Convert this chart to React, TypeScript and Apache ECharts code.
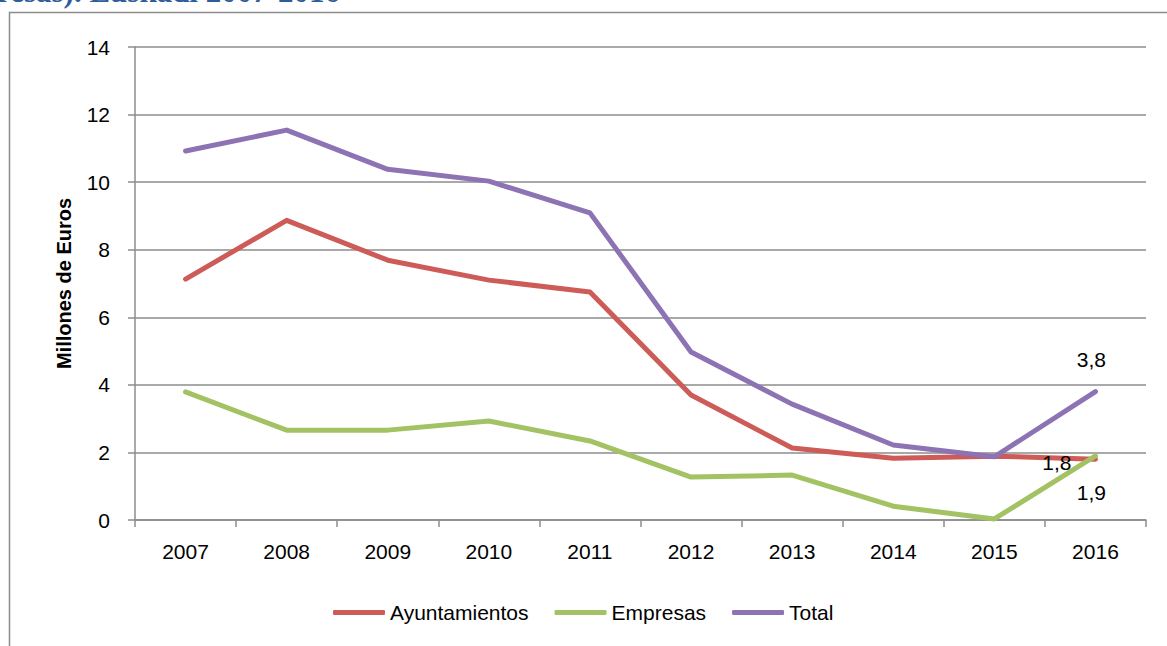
import React, { useEffect, useRef } from "react";
import * as echarts from "echarts";

const years = ["2007", "2008", "2009", "2010", "2011", "2012", "2013", "2014", "2015", "2016"];
const ayuntamientos = [7.13, 8.87, 7.69, 7.1, 6.75, 3.7, 2.13, 1.83, 1.89, 1.8];
const empresas = [3.79, 2.66, 2.66, 2.93, 2.34, 1.27, 1.33, 0.41, 0.03, 1.9];
const total = [10.92, 11.54, 10.38, 10.03, 9.09, 4.97, 3.43, 2.22, 1.87, 3.8];
const yTicks = { min: 0, max: 14, interval: 2 };

const FONT = "'Liberation Sans', Arial, sans-serif";
const GRID_COLOR = "#8c8c8c";

const fmt = (v: number) => v.toFixed(1).replace(".", ",");

// Only the last point of each series carries a value label
function withEndLabel(values: number[], label: object) {
  return values.map((v, i) =>
    i === values.length - 1 ? { value: v, label: { show: true, ...label } } : v
  );
}

function lineSeries(name: string, color: string, data: any[]) {
  return {
    name,
    type: "line",
    data,
    symbol: "circle",
    symbolSize: 0,
    showSymbol: true,
    color,
    itemStyle: { color },
    lineStyle: { width: 5, cap: "round", join: "round" },
  };
}

export default function App() {
  const ref = useRef<HTMLDivElement>(null);

  useEffect(() => {
    if (!ref.current) return;
    const chart = echarts.init(ref.current, null, { renderer: "svg" });
    const labelBase = {
      fontFamily: FONT,
      fontSize: 21,
      color: "#000",
      formatter: (p: any) => fmt(p.value),
    };
    chart.setOption({
      animation: false,
      backgroundColor: "#fff",
      graphic: [
        {
          type: "text",
          left: -3,
          top: -24,
          style: {
            text: "resas). Euskadi 2007-2016",
            font: "bold 31px 'Liberation Serif', serif",
            fill: "#2f5d9c",
          },
        },
        {
          type: "rect",
          shape: { x: 9.5, y: 12.5, width: 1200, height: 700 },
          style: { fill: "none", stroke: GRID_COLOR, lineWidth: 1.5 },
          silent: true,
        },
      ],
      grid: { left: 135, right: 21, top: 47, bottom: 126 },
      legend: {
        left: 328,
        top: 597,
        icon: "roundRect",
        itemWidth: 52,
        itemHeight: 5,
        itemGap: 26,
        textStyle: { fontFamily: FONT, fontSize: 21, color: "#000" },
        data: ["Ayuntamientos", "Empresas", "Total"],
      },
      xAxis: {
        type: "category",
        data: years,
        boundaryGap: true,
        axisLine: { lineStyle: { color: GRID_COLOR, width: 1.5 } },
        axisTick: { show: true, length: 7, lineStyle: { color: GRID_COLOR, width: 1.5 } },
        axisLabel: { fontFamily: FONT, fontSize: 21, color: "#000", margin: 21 },
      },
      yAxis: {
        type: "value",
        min: yTicks.min,
        max: yTicks.max,
        interval: yTicks.interval,
        name: "Millones de Euros",
        nameLocation: "middle",
        nameRotate: 90,
        nameGap: 61,
        nameTextStyle: { fontFamily: FONT, fontSize: 20, fontWeight: "bold", color: "#000" },
        axisLine: { show: true, lineStyle: { color: GRID_COLOR, width: 1.5 } },
        axisTick: { show: true, length: 7, lineStyle: { color: GRID_COLOR, width: 1.5 } },
        axisLabel: { fontFamily: FONT, fontSize: 21, color: "#000", margin: 25 },
        splitLine: { lineStyle: { color: GRID_COLOR, width: 1.5 } },
      },
      series: [
        lineSeries(
          "Ayuntamientos",
          "#cd5c58",
          withEndLabel(ayuntamientos, { ...labelBase, position: "left", distance: 24, offset: [0, 3] })
        ),
        lineSeries(
          "Empresas",
          "#a3c264",
          withEndLabel(empresas, { ...labelBase, position: "bottom", distance: 26, offset: [-4, 0] })
        ),
        lineSeries(
          "Total",
          "#8d73b3",
          withEndLabel(total, { ...labelBase, position: "top", distance: 22, offset: [-4, 0] })
        ),
      ],
    });
    return () => chart.dispose();
  }, []);

  return (
    <div
      ref={ref}
      style={{ position: "absolute", left: 0, top: 0, width: 1167, height: 646 }}
    />
  );
}
